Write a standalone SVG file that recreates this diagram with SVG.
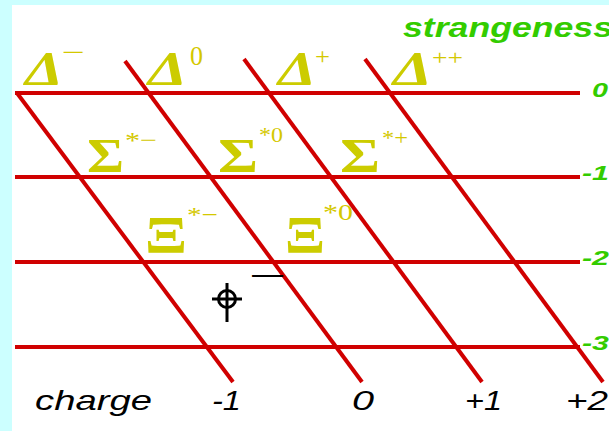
<svg xmlns="http://www.w3.org/2000/svg" width="609" height="431" viewBox="0 0 609 431">
<style>
.grid{stroke:#d00000;stroke-width:4;stroke-linecap:butt;fill:none}
.big{font-family:"Liberation Serif",serif;font-weight:bold;fill:#cccc00}
.it{font-style:italic}
.sup{font-family:"Liberation Serif",serif;fill:#d4c800}
.grn{font-family:"Liberation Sans",Arial,sans-serif;font-style:italic;font-weight:bold;fill:#33cc00}
.blk{font-family:"Liberation Sans",Arial,sans-serif;font-style:italic;fill:#000}
</style>
<rect x="0" y="0" width="609" height="431" fill="#ccffff"/>
<rect x="12" y="5" width="597" height="426" fill="#ffffff"/>
<g id="connectors">
<line class="grid" x1="15" y1="93" x2="580" y2="93"/>
<line class="grid" x1="15" y1="177" x2="580" y2="177"/>
<line class="grid" x1="15" y1="262" x2="580" y2="262"/>
<line class="grid" x1="15" y1="347" x2="580" y2="347"/>
<line class="grid" x1="17" y1="93" x2="233" y2="382"/>
<line class="grid" x1="125" y1="61" x2="362" y2="382"/>
<line class="grid" x1="244" y1="59" x2="482" y2="382"/>
<line class="grid" x1="365" y1="59" x2="603" y2="382"/>
</g>
<g id="axis-strangeness">
<text class="grn" x="403" y="37" font-size="27" textLength="210" lengthAdjust="spacingAndGlyphs">strangeness</text>
<text class="grn" x="592" y="97" font-size="21" textLength="16" lengthAdjust="spacingAndGlyphs">0</text>
<text class="grn" x="582" y="180" font-size="21" textLength="27" lengthAdjust="spacingAndGlyphs">-1</text>
<text class="grn" x="582" y="265" font-size="21" textLength="27" lengthAdjust="spacingAndGlyphs">-2</text>
<text class="grn" x="582" y="350" font-size="21" textLength="27" lengthAdjust="spacingAndGlyphs">-3</text>
</g>
<g id="axis-charge">
<text class="blk" x="35" y="410" font-size="28" textLength="117" lengthAdjust="spacingAndGlyphs">charge</text>
<text class="blk" x="212" y="410" font-size="28" textLength="29" lengthAdjust="spacingAndGlyphs">-1</text>
<text class="blk" x="352" y="410" font-size="28" textLength="22" lengthAdjust="spacingAndGlyphs">0</text>
<text class="blk" x="465" y="410" font-size="28" textLength="37" lengthAdjust="spacingAndGlyphs">+1</text>
<text class="blk" x="566" y="410" font-size="28" textLength="42" lengthAdjust="spacingAndGlyphs">+2</text>
</g>
<g id="delta-minus">
<text class="big it" x="25" y="85" font-size="48" textLength="38" lengthAdjust="spacingAndGlyphs">Δ</text>
<text class="sup" x="62" y="61" font-size="26" textLength="23" lengthAdjust="spacingAndGlyphs">−</text>
</g>
<g id="delta-zero">
<text class="big it" x="148" y="85" font-size="48" textLength="39" lengthAdjust="spacingAndGlyphs">Δ</text>
<text class="sup" x="190" y="65" font-size="27" textLength="13" lengthAdjust="spacingAndGlyphs">0</text>
</g>
<g id="delta-plus">
<text class="big it" x="278" y="85" font-size="48" textLength="38" lengthAdjust="spacingAndGlyphs">Δ</text>
<text class="sup" x="315" y="64" font-size="24" textLength="15" lengthAdjust="spacingAndGlyphs">+</text>
</g>
<g id="delta-plusplus">
<text class="big it" x="393" y="85" font-size="48" textLength="39" lengthAdjust="spacingAndGlyphs">Δ</text>
<text class="sup" x="432" y="65" font-size="22" textLength="31" lengthAdjust="spacingAndGlyphs">++</text>
</g>
<g id="sigma-minus">
<text class="big" x="87" y="172" font-size="48" textLength="37" lengthAdjust="spacingAndGlyphs">Σ</text>
<text class="sup" x="125" y="148" font-size="24" textLength="32" lengthAdjust="spacingAndGlyphs">*−</text>
</g>
<g id="sigma-zero">
<text class="big" x="218" y="172" font-size="48" textLength="40" lengthAdjust="spacingAndGlyphs">Σ</text>
<text class="sup" x="259" y="142" font-size="22" textLength="24" lengthAdjust="spacingAndGlyphs">*0</text>
</g>
<g id="sigma-plus">
<text class="big" x="340" y="172" font-size="48" textLength="40" lengthAdjust="spacingAndGlyphs">Σ</text>
<text class="sup" x="382" y="145" font-size="22" textLength="26" lengthAdjust="spacingAndGlyphs">*+</text>
</g>
<g id="xi-minus">
<text class="big" x="145" y="253" font-size="52" textLength="42" lengthAdjust="spacingAndGlyphs">Ξ</text>
<text class="sup" x="187" y="222" font-size="22" textLength="31" lengthAdjust="spacingAndGlyphs">*−</text>
</g>
<g id="xi-zero">
<text class="big" x="285" y="253" font-size="52" textLength="40" lengthAdjust="spacingAndGlyphs">Ξ</text>
<text class="sup" x="323" y="220" font-size="24" textLength="30" lengthAdjust="spacingAndGlyphs">*0</text>
</g>
<g id="omega-minus">
<circle cx="227" cy="299" r="8.5" fill="none" stroke="#000" stroke-width="3"/>
<line x1="212" y1="299" x2="242" y2="299" stroke="#000" stroke-width="3"/>
<line x1="227" y1="283" x2="227" y2="322" stroke="#000" stroke-width="3"/>
<text x="252" y="284" font-family="Liberation Sans,Arial,sans-serif" font-size="30" fill="#000" textLength="31" lengthAdjust="spacingAndGlyphs">—</text>
</g>
</svg>
